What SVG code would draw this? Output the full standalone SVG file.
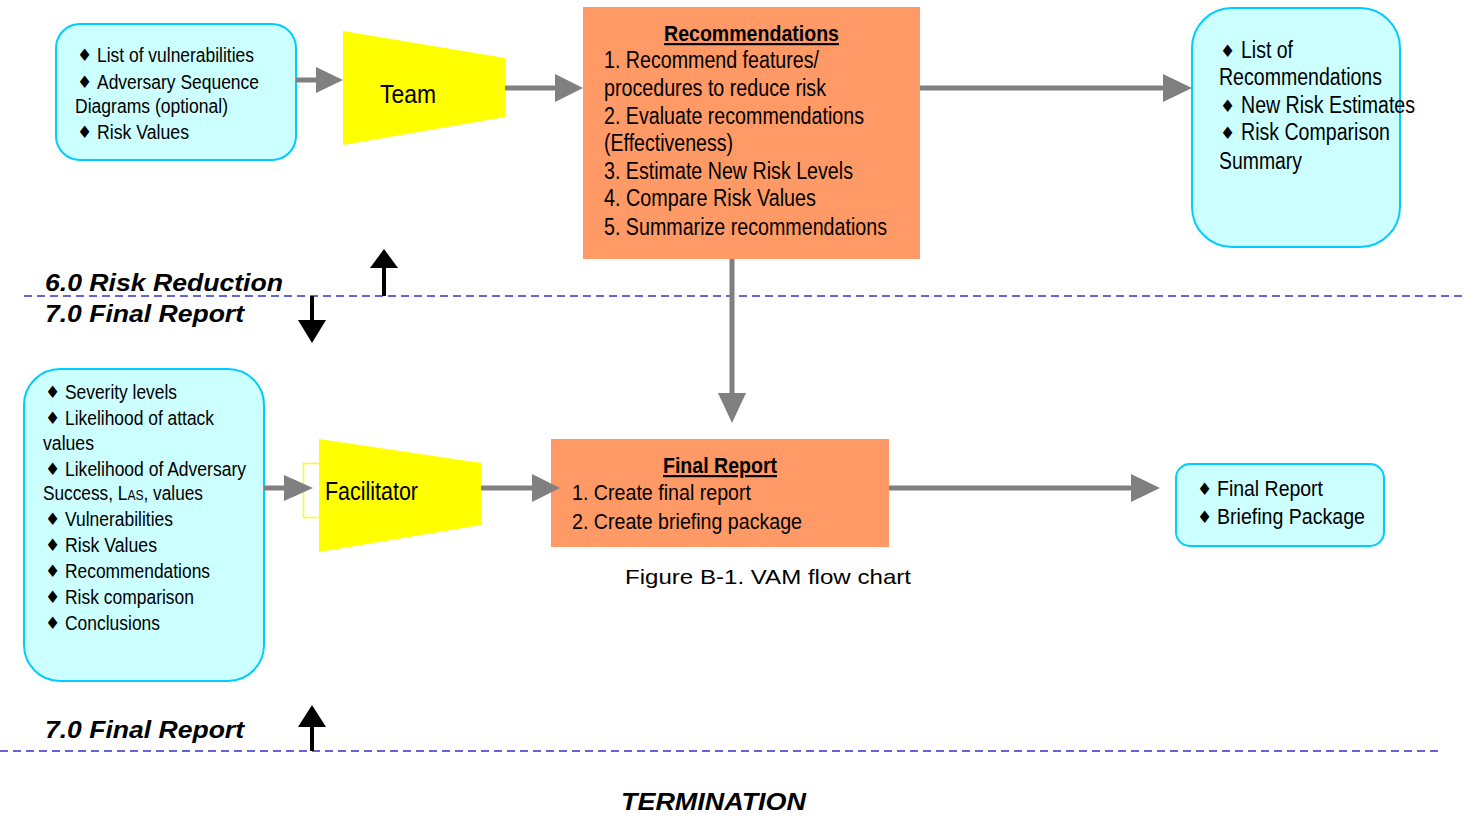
<svg xmlns="http://www.w3.org/2000/svg" width="1470" height="825" viewBox="0 0 1470 825">
<defs>
<style>
.cyan{fill:#ccffff;stroke:#00ccff;stroke-width:2}
.orange{fill:#ff9966}
.yellow{fill:#ffff00}
.t{font-family:"Liberation Sans",Arial,sans-serif;font-size:20px;fill:#000}
.m{font-family:"Liberation Sans",Arial,sans-serif;font-size:22px;fill:#000}
.l{font-family:"Liberation Sans",Arial,sans-serif;font-size:23px;fill:#000}
.b{font-family:"DejaVu Sans",sans-serif;font-size:17px;fill:#000}
.big{font-family:"Liberation Sans",Arial,sans-serif;font-size:25px;fill:#000}
.head{font-family:"Liberation Sans",Arial,sans-serif;font-size:22px;font-weight:bold;text-decoration:underline;fill:#000}
.phase{font-family:"Liberation Sans",Arial,sans-serif;font-size:24px;font-weight:bold;font-style:italic;fill:#000}
.cap{font-family:"Liberation Sans",Arial,sans-serif;font-size:21px;fill:#000}
.gl{stroke:#808080;stroke-width:5;fill:none}
.gh{fill:#808080}
.dash{stroke:#3333cc;stroke-width:1.5;stroke-dasharray:8,5}
</style>
</defs>

<g id="phase-lines">
<line class="dash" x1="24" y1="296" x2="1465" y2="296"/>
<line class="dash" x1="0" y1="751" x2="1440" y2="751"/>
<text class="phase" x="45" y="291" textLength="238" lengthAdjust="spacingAndGlyphs">6.0 Risk Reduction</text>
<text class="phase" x="45" y="322" textLength="199" lengthAdjust="spacingAndGlyphs">7.0 Final Report</text>
<text class="phase" x="45" y="738" textLength="199" lengthAdjust="spacingAndGlyphs">7.0 Final Report</text>
<text class="phase" x="621" y="810" textLength="185" lengthAdjust="spacingAndGlyphs">TERMINATION</text>
</g>

<g id="inputs-top">
<rect class="cyan" x="56" y="24" width="240" height="136" rx="24"/>
<text class="b" x="77" y="61">♦</text>
<text class="t" x="97" y="62" textLength="157" lengthAdjust="spacingAndGlyphs">List of vulnerabilities</text>
<text class="b" x="77" y="88">♦</text>
<text class="t" x="97" y="89" textLength="162" lengthAdjust="spacingAndGlyphs">Adversary Sequence</text>
<text class="t" x="75" y="113" textLength="153" lengthAdjust="spacingAndGlyphs">Diagrams (optional)</text>
<text class="b" x="77" y="138">♦</text>
<text class="t" x="97" y="139" textLength="92" lengthAdjust="spacingAndGlyphs">Risk Values</text>
</g>

<g id="team">
<polygon class="yellow" points="343,31 505,58 505,117 343,145"/>
<text class="big" x="380" y="103" textLength="56" lengthAdjust="spacingAndGlyphs">Team</text>
</g>

<g id="recommendations">
<rect class="orange" x="583" y="7" width="337" height="252"/>
<text class="head" x="664" y="41" textLength="175" lengthAdjust="spacingAndGlyphs">Recommendations</text>
<text class="l" x="604" y="68" textLength="215" lengthAdjust="spacingAndGlyphs">1. Recommend features/</text>
<text class="l" x="604" y="96" textLength="222" lengthAdjust="spacingAndGlyphs">procedures to reduce risk</text>
<text class="l" x="604" y="124" textLength="260" lengthAdjust="spacingAndGlyphs">2. Evaluate recommendations</text>
<text class="l" x="604" y="151" textLength="129" lengthAdjust="spacingAndGlyphs">(Effectiveness)</text>
<text class="l" x="604" y="179" textLength="249" lengthAdjust="spacingAndGlyphs">3. Estimate New Risk Levels</text>
<text class="l" x="604" y="206" textLength="212" lengthAdjust="spacingAndGlyphs">4. Compare Risk Values</text>
<text class="l" x="604" y="235" textLength="283" lengthAdjust="spacingAndGlyphs">5. Summarize recommendations</text>
</g>

<g id="outputs-top">
<rect class="cyan" x="1192" y="8" width="208" height="239" rx="40"/>
<text class="b" x="1220" y="57">♦</text>
<text class="l" x="1241" y="58" textLength="52" lengthAdjust="spacingAndGlyphs">List of</text>
<text class="l" x="1219" y="85" textLength="163" lengthAdjust="spacingAndGlyphs">Recommendations</text>
<text class="b" x="1220" y="112">♦</text>
<text class="l" x="1241" y="113" textLength="174" lengthAdjust="spacingAndGlyphs">New Risk Estimates</text>
<text class="b" x="1220" y="139">♦</text>
<text class="l" x="1241" y="140" textLength="149" lengthAdjust="spacingAndGlyphs">Risk Comparison</text>
<text class="l" x="1219" y="169" textLength="83" lengthAdjust="spacingAndGlyphs">Summary</text>
</g>

<g id="inputs-bottom">
<rect class="cyan" x="24" y="369" width="240" height="312" rx="36"/>
<text class="b" x="45" y="398">♦</text>
<text class="t" x="65" y="399" textLength="112" lengthAdjust="spacingAndGlyphs">Severity levels</text>
<text class="b" x="45" y="424">♦</text>
<text class="t" x="65" y="425" textLength="149" lengthAdjust="spacingAndGlyphs">Likelihood of attack</text>
<text class="t" x="43" y="450" textLength="51" lengthAdjust="spacingAndGlyphs">values</text>
<text class="b" x="45" y="475">♦</text>
<text class="t" x="65" y="476" textLength="181" lengthAdjust="spacingAndGlyphs">Likelihood of Adversary</text>
<text class="t" x="43" y="500" textLength="160" lengthAdjust="spacingAndGlyphs">Success, L<tspan font-size="14">AS</tspan>, values</text>
<text class="b" x="45" y="525">♦</text>
<text class="t" x="65" y="526" textLength="108" lengthAdjust="spacingAndGlyphs">Vulnerabilities</text>
<text class="b" x="45" y="551">♦</text>
<text class="t" x="65" y="552" textLength="92" lengthAdjust="spacingAndGlyphs">Risk Values</text>
<text class="b" x="45" y="577">♦</text>
<text class="t" x="65" y="578" textLength="145" lengthAdjust="spacingAndGlyphs">Recommendations</text>
<text class="b" x="45" y="603">♦</text>
<text class="t" x="65" y="604" textLength="129" lengthAdjust="spacingAndGlyphs">Risk comparison</text>
<text class="b" x="45" y="629">♦</text>
<text class="t" x="65" y="630" textLength="95" lengthAdjust="spacingAndGlyphs">Conclusions</text>
</g>

<g id="facilitator">
<rect x="303.5" y="463.5" width="177" height="54" fill="none" stroke="#ffff00" stroke-width="1.5"/>
<polygon class="yellow" points="319,439 481,463 481,525 319,552"/>
<text class="big" x="325" y="500" textLength="93" lengthAdjust="spacingAndGlyphs">Facilitator</text>
</g>

<g id="final-report">
<rect class="orange" x="551" y="439" width="338" height="108"/>
<text class="head" x="663" y="473" textLength="114" lengthAdjust="spacingAndGlyphs">Final Report</text>
<text class="m" x="572" y="500" textLength="179" lengthAdjust="spacingAndGlyphs">1. Create final report</text>
<text class="m" x="572" y="529" textLength="230" lengthAdjust="spacingAndGlyphs">2. Create briefing package</text>
</g>

<g id="outputs-bottom">
<rect class="cyan" x="1176" y="464" width="208" height="82" rx="14"/>
<text class="b" x="1197" y="495">♦</text>
<text class="m" x="1217" y="496" textLength="106" lengthAdjust="spacingAndGlyphs">Final Report</text>
<text class="b" x="1197" y="523">♦</text>
<text class="m" x="1217" y="524" textLength="148" lengthAdjust="spacingAndGlyphs">Briefing Package</text>
</g>

<g id="caption">
<text class="cap" x="625" y="584" textLength="286" lengthAdjust="spacingAndGlyphs">Figure B-1. VAM flow chart</text>
</g>

<g id="connectors">
<line class="gl" x1="296" y1="80" x2="318" y2="80"/>
<polygon class="gh" points="316,67 343,80 316,93"/>
<line class="gl" x1="505" y1="88" x2="557" y2="88"/>
<polygon class="gh" points="555,74 583,88 555,102"/>
<line class="gl" x1="920" y1="88" x2="1165" y2="88"/>
<polygon class="gh" points="1163,74 1192,88 1163,102"/>
<line class="gl" x1="732" y1="259" x2="732" y2="395"/>
<polygon class="gh" points="718,393 746,393 732,423"/>
<line class="gl" x1="264" y1="488" x2="286" y2="488"/>
<polygon class="gh" points="284,475 313,488 284,501"/>
<line class="gl" x1="481" y1="488" x2="534" y2="488"/>
<polygon class="gh" points="532,474 560,488 532,502"/>
<line class="gl" x1="889" y1="488" x2="1133" y2="488"/>
<polygon class="gh" points="1131,474 1160,488 1131,502"/>
<line x1="384" y1="296" x2="384" y2="266" stroke="#000" stroke-width="4"/>
<polygon points="370,268 398,268 384,249" fill="#000"/>
<line x1="312" y1="296" x2="312" y2="322" stroke="#000" stroke-width="4"/>
<polygon points="298,320 326,320 312,343" fill="#000"/>
<line x1="312" y1="751" x2="312" y2="725" stroke="#000" stroke-width="4"/>
<polygon points="298,727 326,727 312,705" fill="#000"/>
</g>
</svg>
